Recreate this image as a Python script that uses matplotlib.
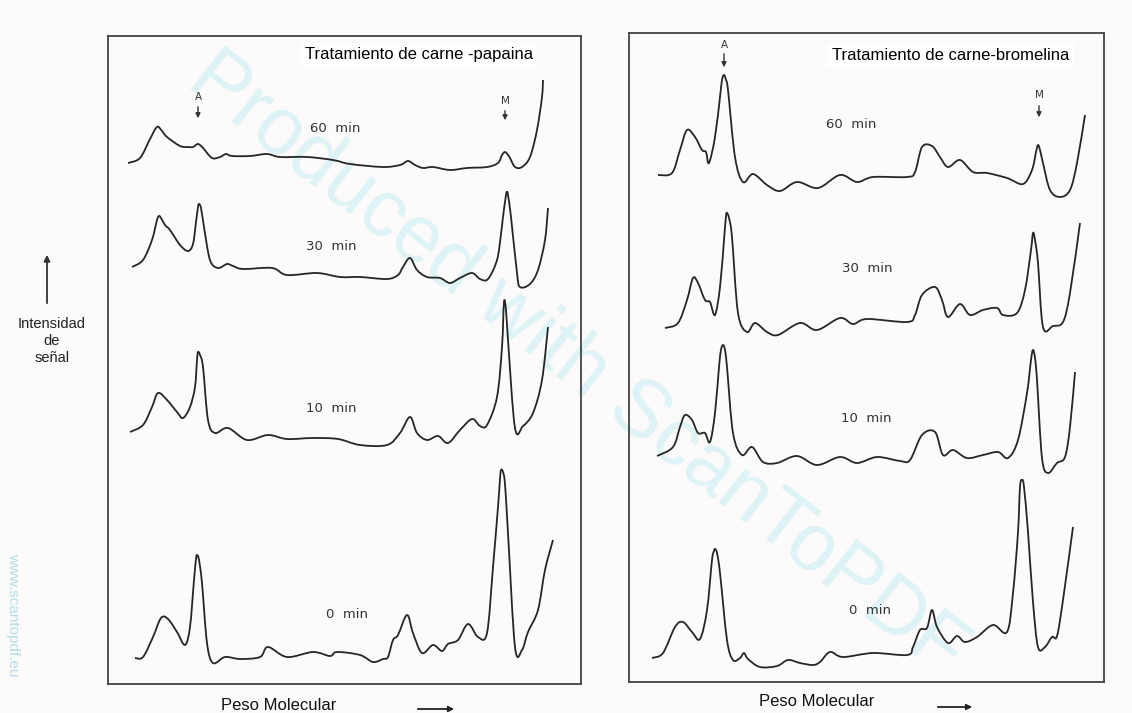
import matplotlib.pyplot as plt
import numpy as np
from matplotlib.path import Path
from matplotlib.patches import PathPatch, FancyArrowPatch

# densitometer traces: scan position (px along the gel) and signal height above frame floor
# ---- papaina panel ----
pap_60_x = [128, 140, 150, 157, 162, 167, 180, 188, 193, 198, 203, 212, 220, 226, 232, 250, 267, 280, 307, 333, 350,
            383, 400, 408, 415, 423, 433, 450, 467, 487, 498, 502, 505, 508, 510, 515, 522, 530, 537, 542, 543]
pap_60_y = [521, 526, 545, 557, 553, 547, 538, 537, 537, 540, 536, 526, 527, 530, 528, 528, 530, 527, 527, 524, 520,
            517, 519, 523, 519, 516, 517, 514, 516, 517, 521, 529, 532, 529, 526, 517, 517, 527, 554, 587, 604]

pap_30_x = [132, 143, 152, 157, 159, 161, 165, 170, 180, 188, 193, 196, 198, 199, 201, 204, 210, 218, 227, 233, 243,
            272, 287, 317, 340, 360, 387, 398, 403, 410, 417, 427, 440, 450, 460, 472, 480, 488, 497, 501, 503, 506,
            507, 508, 511, 517, 520, 530, 538, 545, 548]
pap_30_y = [417, 424, 444, 464, 468, 466, 459, 454, 439, 433, 440, 462, 477, 480, 476, 457, 424, 416, 420, 418, 415,
            416, 409, 411, 407, 407, 405, 409, 417, 426, 414, 407, 406, 401, 406, 411, 405, 405, 424, 450, 467, 489,
            492, 489, 467, 411, 397, 400, 414, 444, 476]

pap_10_x = [130, 143, 152, 158, 167, 177, 183, 190, 195, 197, 198, 200, 203, 208, 215, 228, 247, 268, 287, 313, 338,
            360, 387, 400, 410, 417, 427, 438, 448, 460, 472, 480, 487, 497, 502, 504, 506, 508, 515, 523, 533, 542,
            548]
pap_10_y = [252, 259, 277, 291, 284, 272, 266, 277, 297, 324, 332, 329, 317, 264, 251, 256, 244, 249, 245, 246, 245,
            239, 239, 251, 267, 251, 244, 248, 241, 254, 265, 258, 259, 287, 337, 382, 374, 344, 256, 258, 271, 304,
            357]

pap_0_x = [135, 143, 153, 161, 168, 177, 185, 190, 194, 196, 197, 199, 202, 207, 213, 225, 240, 260, 268, 287, 313,
           330, 337, 360, 373, 383, 388, 393, 398, 407, 413, 422, 433, 442, 448, 458, 468, 478, 487, 493, 498, 500,
           501, 503, 505, 508, 515, 522, 528, 538, 545, 553]
pap_0_y = [26, 27, 47, 66, 65, 52, 39, 57, 104, 125, 129, 124, 101, 41, 21, 27, 25, 27, 37, 27, 32,
           28, 32, 29, 22, 25, 27, 44, 49, 69, 51, 31, 39, 33, 40, 44, 60, 47, 51, 117, 177, 205,
           214, 212, 200, 151, 37, 34, 52, 74, 114, 144]

# ---- bromelina panel ----
bro_60_x = [658, 672, 680, 687, 695, 702, 706, 709, 715, 720, 722, 724, 726, 728, 735, 743, 753, 767, 780, 797, 818,
            840, 857, 873, 907, 915, 922, 932, 940, 948, 960, 973, 987, 1007, 1023, 1032, 1036, 1038, 1040, 1043, 1050,
            1060, 1070, 1077, 1085]
bro_60_y = [507, 509, 532, 552, 545, 532, 530, 519, 545, 585, 602, 607, 602, 592, 525, 500, 508, 497, 491, 500, 494,
            507, 500, 505, 505, 510, 535, 536, 525, 515, 522, 510, 509, 504, 498, 512, 530, 537, 532, 519, 492,
            485, 492, 519, 567]

bro_30_x = [665, 678, 687, 693, 698, 705, 710, 715, 720, 724, 726, 727, 729, 732, 738, 747, 755, 767, 778, 800, 817,
            840, 853, 867, 907, 915, 922, 935, 942, 948, 960, 970, 983, 997, 1003, 1017, 1025, 1031, 1033, 1035, 1038,
            1043, 1053, 1063, 1070, 1080]
bro_30_y = [354, 359, 382, 404, 399, 382, 380, 367, 395, 442, 466, 469, 464, 445, 369, 350, 359, 350, 347, 359, 352,
            364, 358, 363, 360, 367, 387, 395, 382, 365, 378, 367, 372, 374, 367, 369, 392, 432, 449, 442, 419,
            355, 356, 360, 389, 459]

bro_10_x = [657, 673, 680, 685, 692, 698, 705, 710, 715, 719, 721, 723, 725, 727, 733, 742, 752, 763, 777, 797, 817,
            840, 857, 877, 900, 910, 922, 935, 943, 953, 967, 983, 998, 1008, 1018, 1027, 1031, 1033, 1035, 1037, 1042,
            1048, 1057, 1065, 1070, 1075]
bro_10_y = [226, 235, 255, 267, 262, 249, 249, 240, 269, 315, 332, 337, 332, 315, 249, 227, 235, 220, 219, 226, 217,
            225, 219, 225, 221, 222, 247, 250, 227, 232, 224, 227, 230, 224, 242, 289, 322, 332, 324, 302, 224,
            209, 219, 225, 255, 310]

bro_0_x = [652, 663, 675, 683, 692, 700, 707, 712, 714, 715, 717, 720, 727, 733, 740, 744, 748, 760, 777, 788, 800,
           813, 820, 830, 843, 873, 907, 913, 920, 927, 932, 937, 948, 957, 965, 977, 993, 1007, 1013, 1018, 1020,
           1022, 1024, 1028, 1033, 1038, 1045, 1052, 1057, 1063, 1073]
bro_0_y = [24, 29, 55, 60, 50, 43, 72, 122, 131, 133, 129, 109, 42, 22, 24, 29, 23, 15, 16, 22, 19,
           17, 20, 30, 25, 29, 27, 35, 52, 54, 72, 55, 39, 46, 40, 45, 57, 50, 89, 150, 195,
           202, 195, 150, 80, 35, 35, 45, 46, 82, 155]

times = ['60  min', '30  min', '10  min', '0  min']
titles = ['Tratamiento de carne -papaina', 'Tratamiento de carne-bromelina']

ink = '#262626'
fig = plt.figure(figsize=(11.32, 7.13), dpi=100, facecolor='#fcfafa')


def px(x, y):
    return x / 1132, 1 - y / 713


def smooth_trace(ax, xs, ys):
    # draw the trace as a Catmull-Rom curve through the read points
    p = np.column_stack([xs, ys]).astype(float)
    p = np.vstack([p[0], p, p[-1]])
    verts = [p[1]]
    codes = [Path.MOVETO]
    for i in range(1, len(p) - 2):
        c1 = p[i] + (p[i + 1] - p[i - 1]) / 6
        c2 = p[i + 1] - (p[i + 2] - p[i]) / 6
        verts += [c1, c2, p[i + 1]]
        codes += [Path.CURVE4] * 3
    ax.add_patch(PathPatch(Path(verts, codes), facecolor='none', edgecolor=ink, lw=1.3, joinstyle='round'))


# panel frames (left, right, top, bottom in px)
frames = [(108, 581, 36, 684), (629, 1104, 33, 682)]
axes = []
for (l, r, t, b) in frames:
    ax = fig.add_axes([l / 1132, 1 - b / 713, (r - l) / 1132, (b - t) / 713])
    ax.set_xlim(l, r)
    ax.set_ylim(0, b - t)
    ax.set_xticks([])
    ax.set_yticks([])
    ax.set_facecolor('none')
    for s in ax.spines.values():
        s.set_color('#444444')
        s.set_linewidth(1.3)
    axes.append(ax)

ax1, ax2 = axes
for xs, ys in [(pap_60_x, pap_60_y), (pap_30_x, pap_30_y), (pap_10_x, pap_10_y), (pap_0_x, pap_0_y)]:
    smooth_trace(ax1, xs, ys)
for xs, ys in [(bro_60_x, bro_60_y), (bro_30_x, bro_30_y), (bro_10_x, bro_10_y), (bro_0_x, bro_0_y)]:
    smooth_trace(ax2, xs, ys)

lab = dict(fontsize=9.5, color='#333333', ha='center', va='center', family='DejaVu Sans')
for t, (x, y) in zip(times, [(335, 556), (331, 438), (331, 276), (347, 70)]):
    ax1.text(x, y, t, **lab)
for t, (x, y) in zip(times, [(851, 558), (867, 414), (866, 264), (870, 72)]):
    ax2.text(x, y, t, **lab)


def marker(ax, x, ytext, y0, y1, s):
    ax.text(x, ytext, s, fontsize=7.5, color='#333333', ha='center', va='center')
    ax.annotate('', xy=(x, y1), xytext=(x, y0),
                arrowprops=dict(arrowstyle='-|>', lw=1.0, color='#333333', mutation_scale=7))


marker(ax1, 198, 587, 580, 563, 'A')
marker(ax1, 505, 583, 576, 561, 'M')
marker(ax2, 724, 637, 631, 612, 'A')
marker(ax2, 1039, 587, 579, 562, 'M')

tbox = dict(facecolor='white', edgecolor='none', pad=3)
ax1.text(419, 629, titles[0], fontsize=12, family='Liberation Sans', ha='center', va='center', bbox=tbox)
ax2.text(951, 627, titles[1], fontsize=12, family='Liberation Sans', ha='center', va='center', bbox=tbox)

# watermark
fig.text(*px(577, 365), 'Produced with ScanToPDF', fontsize=58, color='#def3f5', rotation=-38,
         ha='center', va='center', family='Liberation Sans', zorder=-1)
fig.text(*px(13, 615), 'www.scantopdf.eu', fontsize=11, color='#b3dee5', rotation=-90,
         ha='center', va='center', family='Liberation Sans')

# y label with arrow
fig.text(*px(52, 341), 'Intensidad\nde\nseñal', fontsize=10.5, family='Liberation Sans', ha='center', va='center',
         linespacing=1.25, color='#222222')
fig.add_artist(FancyArrowPatch(px(47, 306), px(47, 252), transform=fig.transFigure,
                               arrowstyle='-|>', mutation_scale=9, lw=1.3, color='#333333'))

# x labels with arrows
for cx, cy, a0, a1, ay in [(279, 705, 415, 457, 709), (817, 701, 935, 975, 707)]:
    fig.text(*px(cx, cy), 'Peso Molecular', fontsize=12, family='Liberation Sans', ha='center', va='center',
             color='#111111')
    fig.add_artist(FancyArrowPatch(px(a0, ay), px(a1, ay), transform=fig.transFigure,
                                   arrowstyle='-|>', mutation_scale=8, lw=1.3, color='#222222'))

fig.savefig('out.png', dpi=100, facecolor=fig.get_facecolor())
